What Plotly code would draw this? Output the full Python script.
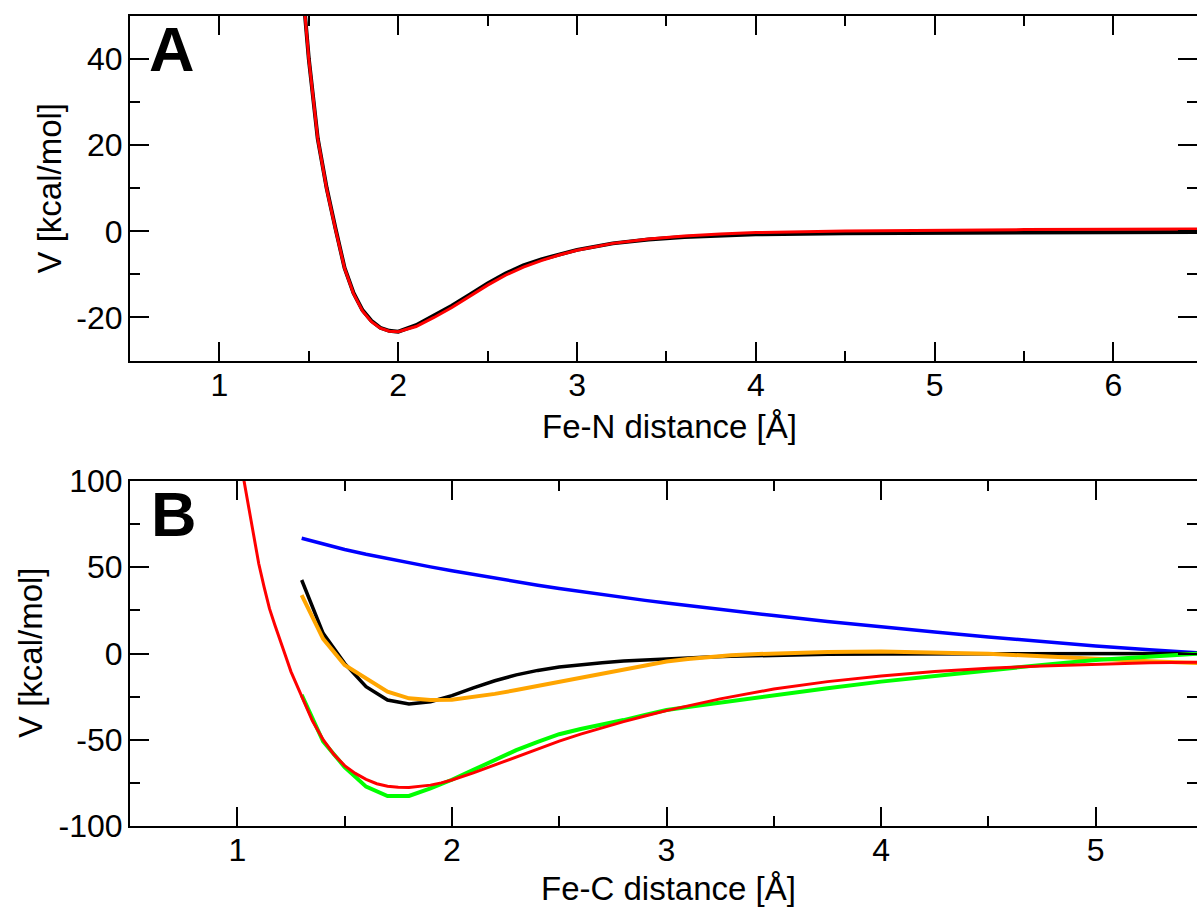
import plotly.graph_objects as go

# ---------------- Panel A: Fe-N potential ----------------
fen_r = [1.45, 1.50, 1.55, 1.60, 1.65, 1.70, 1.75, 1.80, 1.85, 1.90, 1.95, 2.00,
         2.10, 2.20, 2.30, 2.40, 2.50, 2.60, 2.70, 2.80, 2.90, 3.00, 3.20, 3.40,
         3.60, 3.80, 4.00, 4.50, 5.00, 5.50, 6.00, 6.50]
fen_ref = [64.0, 40.0, 21.5, 10.0, 0.5, -8.5, -14.3, -18.3, -20.8, -22.4, -23.1, -23.3,
           -21.8, -19.6, -17.3, -14.7, -12.1, -9.8, -7.9, -6.5, -5.3, -4.3, -2.8, -1.9,
           -1.3, -1.0, -0.7, -0.45, -0.3, -0.25, -0.2, -0.15]
fen_fit = [64.0, 40.0, 21.5, 9.8, 0.3, -8.6, -14.5, -18.5, -21.0, -22.5, -23.2, -23.3,
           -22.1, -20.0, -17.7, -15.1, -12.5, -10.2, -8.3, -6.8, -5.5, -4.4, -2.8, -1.8,
           -1.1, -0.6, -0.3, 0.1, 0.3, 0.4, 0.5, 0.55]

# ---------------- Panel B: Fe-C potentials ----------------
fec_r = [1.3, 1.4, 1.5, 1.6, 1.7, 1.8, 1.9, 2.0, 2.1, 2.2, 2.3, 2.4, 2.5, 2.6,
         2.7, 2.8, 2.9, 3.0, 3.1, 3.2, 3.3, 3.4, 3.5, 3.75, 4.0, 4.25, 4.5, 4.75,
         5.0, 5.25, 5.5]
fec_black = [42.6, 11.7, -5.7, -19.2, -27.0, -29.3, -28.0, -24.4, -19.9, -15.8, -12.4,
             -9.8, -7.8, -6.4, -5.3, -4.4, -3.7, -3.1, -2.5, -2.0, -1.6, -1.25, -1.0,
             -0.5, -0.25, -0.15, -0.1, -0.05, 0.0, 0.0, 0.0]
fec_orange = [33.9, 8.5, -6.7, -14.4, -22.1, -26.0, -27.0, -26.8, -25.2, -23.4, -21.2,
              -18.9, -16.6, -14.2, -11.6, -9.2, -6.9, -4.6, -3.2, -2.0, -1.0, -0.4, 0.1,
              0.9, 1.1, 0.7, -0.2, -1.6, -3.2, -4.5, -5.6]
fec_green = [-24.0, -51.0, -65.8, -77.2, -82.6, -82.6, -78.2, -73.2, -67.5, -61.7, -56.0,
             -51.2, -46.8, -43.8, -41.3, -38.6, -35.6, -32.8, -31.0, -29.3, -27.6, -25.9,
             -24.3, -20.2, -16.3, -12.9, -9.6, -6.6, -3.8, -1.7, 0.1]
fec_blue = [66.8, 63.3, 60.3, 57.5, 54.9, 52.5, 50.2, 48.0, 45.8, 43.7, 41.6, 39.6,
            37.7, 35.9, 34.1, 32.4, 30.8, 29.3, 27.8, 26.3, 24.9, 23.4, 22.0, 18.6,
            15.4, 12.4, 9.6, 6.9, 4.4, 2.2, 0.2]

fec_fit_r = [1.00, 1.025, 1.05, 1.075, 1.10, 1.125, 1.15, 1.175, 1.20, 1.225, 1.25,
             1.275, 1.30, 1.35, 1.40, 1.45, 1.50, 1.55, 1.60, 1.65, 1.70, 1.75, 1.80,
             1.85, 1.90, 1.95, 2.00, 2.10, 2.20, 2.30, 2.40, 2.50, 2.60, 2.70, 2.80,
             2.90, 3.00, 3.25, 3.50, 3.75, 4.00, 4.25, 4.50, 4.75, 5.00, 5.25, 5.50]
fec_fit = [122.0, 104.0, 88.0, 69.0, 52.0, 38.5, 26.0, 16.5, 8.0, -1.5, -10.5,
           -17.8, -24.5, -39.0, -50.0, -58.5, -65.0, -69.5, -73.0, -75.5, -77.0, -77.6,
           -77.7, -77.2, -76.3, -75.0, -73.3, -69.2, -64.6, -59.8, -55.2, -50.8, -46.7,
           -43.0, -39.5, -36.2, -33.1, -26.3, -20.6, -16.3, -13.0, -10.5, -8.6, -7.2,
           -6.1, -5.4, -5.0]

# ---------------- Axis ticks ----------------
fen_xticks = [1, 2, 3, 4, 5, 6]
fen_yticks = [-20, 0, 20, 40]
fen_ytext = ["-20", "0", "20", "40"]
fec_xticks = [1, 2, 3, 4, 5]
fec_yticks = [-100, -50, 0, 50, 100]
fec_ytext = ["-100", "-50", "0", "50", "100"]

W, H = 1197, 909
FONT = "Liberation Sans, Arial, sans-serif"

fig = go.Figure()

# panel A
fig.add_trace(go.Scatter(x=fen_r, y=fen_ref, mode="lines",
                         line=dict(color="black", width=4), xaxis="x", yaxis="y"))
fig.add_trace(go.Scatter(x=fen_r, y=fen_fit, mode="lines",
                         line=dict(color="#ff0000", width=3), xaxis="x", yaxis="y"))

# panel B
fig.add_trace(go.Scatter(x=fec_r, y=fec_blue, mode="lines",
                         line=dict(color="#0000ff", width=3.5), xaxis="x2", yaxis="y2"))
fig.add_trace(go.Scatter(x=fec_r, y=fec_black, mode="lines",
                         line=dict(color="black", width=3.5), xaxis="x2", yaxis="y2"))
fig.add_trace(go.Scatter(x=fec_r, y=fec_orange, mode="lines",
                         line=dict(color="#ffa500", width=4), xaxis="x2", yaxis="y2"))
fig.add_trace(go.Scatter(x=fec_r, y=fec_green, mode="lines",
                         line=dict(color="#00ff00", width=4), xaxis="x2", yaxis="y2"))
fig.add_trace(go.Scatter(x=fec_fit_r, y=fec_fit, mode="lines",
                         line=dict(color="#ff0000", width=3), xaxis="x2", yaxis="y2"))

left = 130 / W


def ydom(top, bottom):
    return [1 - bottom / H, 1 - top / H]


def axis_style(tickvals, ticktext, minor_dtick, standoff=0):
    return dict(
        showgrid=False, zeroline=False, showline=True, linecolor="black",
        linewidth=2, mirror="ticks", ticks="inside", ticklen=19, tickwidth=1.5,
        tickcolor="black", tickmode="array", tickvals=tickvals, ticktext=ticktext,
        automargin=False, ticklabelstandoff=standoff,
        tickfont=dict(family=FONT, size=32, color="black"),
        minor=dict(ticks="inside", ticklen=10, tickwidth=1.5, tickcolor="black",
                   tick0=0, dtick=minor_dtick, showgrid=False),
    )


fig.update_layout(
    width=W, height=H,
    margin=dict(l=0, r=0, t=0, b=0),
    paper_bgcolor="white", plot_bgcolor="white",
    showlegend=False,
    xaxis=dict(domain=[left, 1], range=[0.5, 6.467], anchor="y",
               **axis_style(fen_xticks, [str(v) for v in fen_xticks], 0.5, -5)),
    yaxis=dict(domain=ydom(16, 360.5), range=[-30, 50], anchor="x",
               **axis_style(fen_yticks, fen_ytext, 10, -1)),
    xaxis2=dict(domain=[left, 1], range=[0.5, 5.472], anchor="y2",
                **axis_style(fec_xticks, [str(v) for v in fec_xticks], 0.5, -5)),
    yaxis2=dict(domain=ydom(481, 826), range=[-100, 100], anchor="x2",
                **axis_style(fec_yticks, fec_ytext, 25, -1)),
)

title_font = dict(family=FONT, size=33, color="black")
letter_font = dict(family=FONT, size=63, color="black")

annotations = [
    dict(text="Fe-N distance [Å]", x=669 / W, y=1 - 426 / H, font=title_font),
    dict(text="Fe-C distance [Å]", x=668 / W, y=0, yanchor="bottom", font=title_font),
    dict(text="V [kcal/mol]", x=48.5 / W, y=1 - 188 / H, textangle=-90, font=title_font),
    dict(text="V [kcal/mol]", x=30 / W, y=1 - 653 / H, textangle=-90, font=title_font),
    dict(text="<b>A</b>", x=147 / W, y=1 - 49 / H, xanchor="left", font=letter_font),
    dict(text="<b>B</b>", x=149 / W, y=1 - 514 / H, xanchor="left", font=letter_font),
]
for a in annotations:
    a.setdefault("xanchor", "center")
    a.setdefault("yanchor", "middle")
    a.update(xref="paper", yref="paper", showarrow=False)
fig.update_layout(annotations=annotations)

fig.write_html("out.html")
